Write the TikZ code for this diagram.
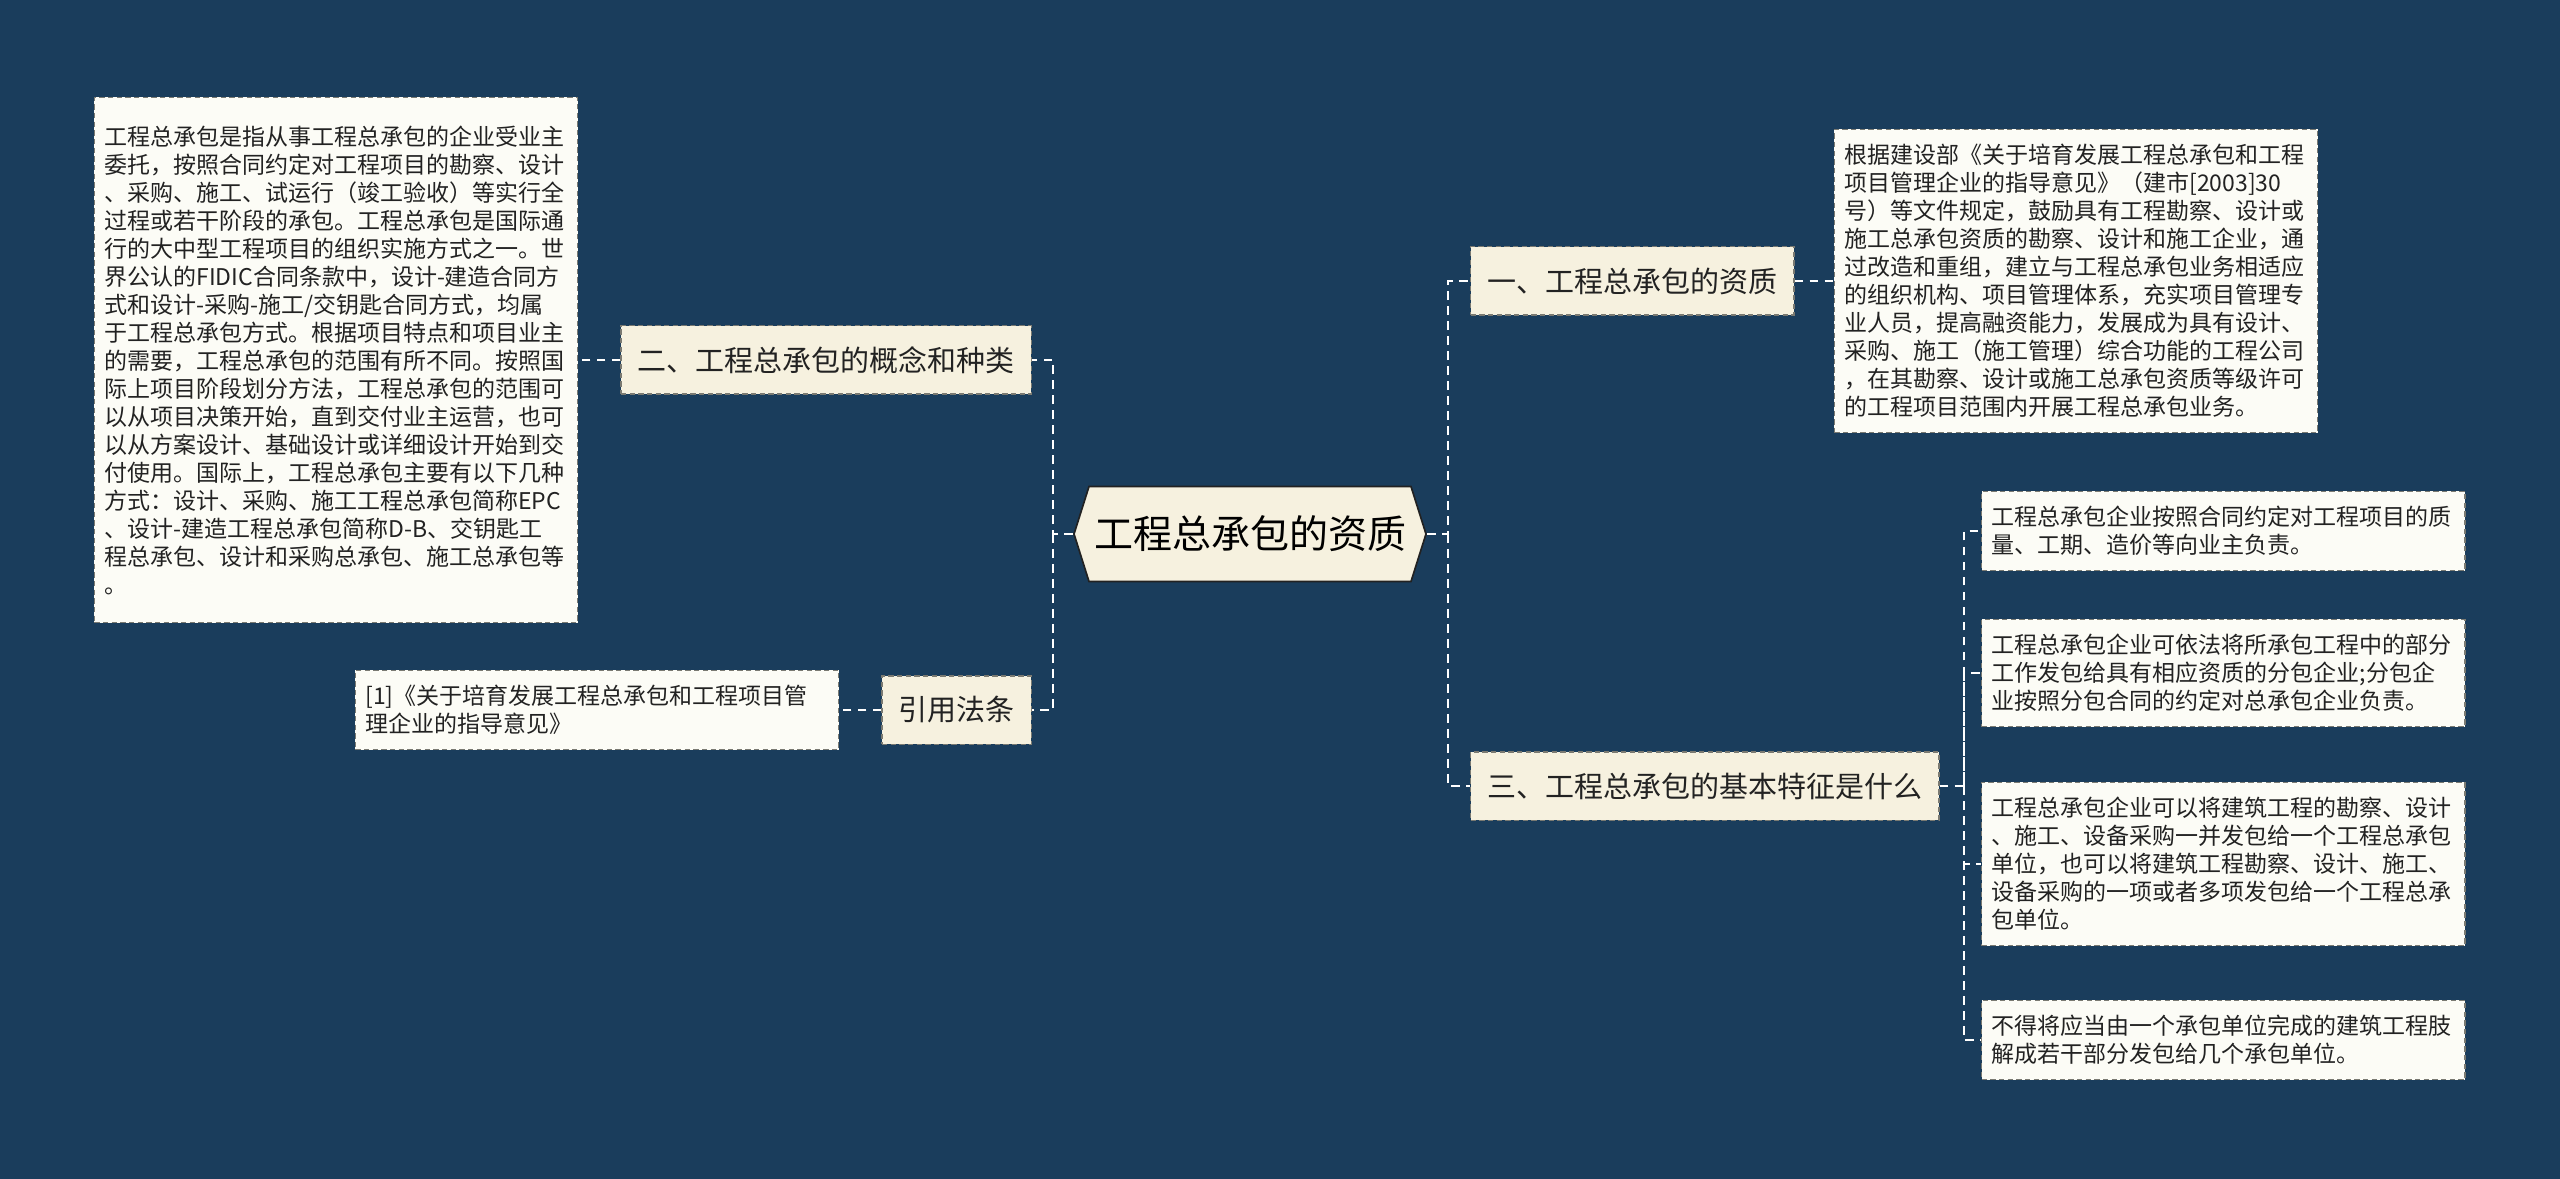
\documentclass[tikz,border=0pt]{standalone}
\usepackage{fontspec}
\setmainfont{Noto Sans CJK SC}
\usetikzlibrary{positioning,shapes.symbols}
\definecolor{mapbg}{HTML}{1A3D5C}
\definecolor{mapcream}{HTML}{F6F1DF}
\definecolor{mappaper}{HTML}{FCFCF6}
\definecolor{mapink}{HTML}{222222}
\definecolor{mapedge}{HTML}{7A7A72}
\tikzset{
  box/.style={align=left, text=mapink, draw=mapedge, dash pattern=on 1.6pt off 1pt, line width=0.4pt},
  topic/.style={box, fill=mapcream, font=\fontsize{8.7}{10.5}\selectfont, inner xsep=5pt, minimum height=20.5pt},
  leaf/.style={box, fill=mappaper, font=\fontsize{6.9}{8.4}\selectfont, text width=139pt, inner xsep=3pt, inner ysep=4.5pt},
  hubnode/.style={signal, signal to=west and east, signal pointer angle=145, fill=mapcream, draw=mapink, line width=0.5pt, font=\fontsize{11.7}{14}\selectfont, minimum height=28.5pt, inner xsep=1.5pt},
  link/.style={draw=white, line width=0.8pt, dash pattern=on 2.6pt off 1.9pt},
}
\begin{document}
\begin{tikzpicture}[x=0.3pt, y=-0.3pt]
  \useasboundingbox (0,0) rectangle (2560,1179);
  \fill[mapbg] (0,0) rectangle (2560,1179);
  \node[hubnode] (hub) at (1250,534) {工程总承包的资质};
  % left branches
  \node[topic, anchor=east] (kind) at (1032,360) {二、工程总承包的概念和种类};
  \node[topic, anchor=east] (law) at (1032,710) {引用法条};
  \node[leaf, inner ysep=8.5pt, left=12.6pt of kind] (kindtxt) {工程总承包是指从事工程总承包的企业受业主\\委托，按照合同约定对工程项目的勘察、设计\\、采购、施工、试运行（竣工验收）等实行全\\过程或若干阶段的承包。工程总承包是国际通\\行的大中型工程项目的组织实施方式之一。世\\界公认的FIDIC合同条款中，设计-建造合同方\\式和设计-采购-施工/交钥匙合同方式，均属\\于工程总承包方式。根据项目特点和项目业主\\的需要，工程总承包的范围有所不同。按照国\\际上项目阶段划分方法，工程总承包的范围可\\以从项目决策开始，直到交付业主运营，也可\\以从方案设计、基础设计或详细设计开始到交\\付使用。国际上，工程总承包主要有以下几种\\方式：设计、采购、施工工程总承包简称EPC\\、设计-建造工程总承包简称D-B、交钥匙工\\程总承包、设计和采购总承包、施工总承包等\\。};
  \node[leaf, left=12.6pt of law] (lawtxt) {[1]《关于培育发展工程总承包和工程项目管\\理企业的指导意见》};
  % right branches
  \node[topic, anchor=west] (qual) at (1470,281) {一、工程总承包的资质};
  \node[topic, anchor=west] (feat) at (1470,786) {三、工程总承包的基本特征是什么};
  \node[leaf, right=11.7pt of qual] (qualtxt) {根据建设部《关于培育发展工程总承包和工程\\项目管理企业的指导意见》（建市[2003]30\\号）等文件规定，鼓励具有工程勘察、设计或\\施工总承包资质的勘察、设计和施工企业，通\\过改造和重组，建立与工程总承包业务相适应\\的组织机构、项目管理体系，充实项目管理专\\业人员，提高融资能力，发展成为具有设计、\\采购、施工（施工管理）综合功能的工程公司\\，在其勘察、设计或施工总承包资质等级许可\\的工程项目范围内开展工程总承包业务。};
  \node[leaf, anchor=west] (f1) at (1981,531) {工程总承包企业按照合同约定对工程项目的质\\量、工期、造价等向业主负责。};
  \node[leaf, anchor=west] (f2) at (1981,673) {工程总承包企业可依法将所承包工程中的部分\\工作发包给具有相应资质的分包企业;分包企\\业按照分包合同的约定对总承包企业负责。};
  \node[leaf, anchor=west] (f3) at (1981,864) {工程总承包企业可以将建筑工程的勘察、设计\\、施工、设备采购一并发包给一个工程总承包\\单位，也可以将建筑工程勘察、设计、施工、\\设备采购的一项或者多项发包给一个工程总承\\包单位。};
  \node[leaf, anchor=west] (f4) at (1981,1040) {不得将应当由一个承包单位完成的建筑工程肢\\解成若干部分发包给几个承包单位。};
  % connectors
  \coordinate (lbus) at (1053,534);
  \coordinate (rbus) at (1448,534);
  \coordinate (fbus) at (1964,786);
  \draw[link] (hub.west) -- (lbus) |- (kind.east);
  \draw[link] (lbus) |- (law.east);
  \draw[link] (hub.east) -- (rbus) |- (qual.west);
  \draw[link] (rbus) |- (feat.west);
  \draw[link] (kind.west) -- (kindtxt.east);
  \draw[link] (law.west) -- (lawtxt.east);
  \draw[link] (qual.east) -- (qualtxt.west);
  \draw[link] (feat.east) -- (fbus) |- (f1.west);
  \draw[link] (fbus) |- (f2.west);
  \draw[link] (fbus) |- (f3.west);
  \draw[link] (fbus) |- (f4.west);
\end{tikzpicture}
\end{document}
